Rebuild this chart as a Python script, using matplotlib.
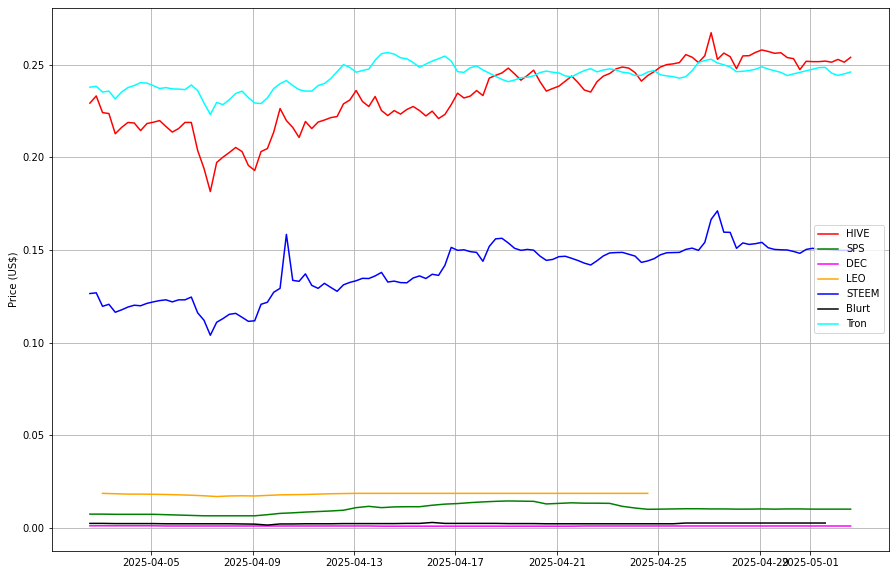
import numpy as np
import pandas as pd
import matplotlib
matplotlib.use('Agg')
import matplotlib.pyplot as plt

# time grids (6-hourly for the volatile coins, 12-hourly for the flat ones)
start = '2025-04-02 14:00'
t6 = pd.date_range(start, periods=121, freq='6h')
t12 = pd.date_range(start, periods=61, freq='12h')

hive = [0.2292, 0.2331, 0.2241, 0.2236, 0.2127, 0.2161, 0.2188, 0.2185, 0.2144, 0.2182,
        0.2189, 0.2198, 0.2166, 0.2136, 0.2155, 0.2188, 0.2188, 0.2037, 0.1940, 0.1815,
        0.1972, 0.2001, 0.2026, 0.2053, 0.2031, 0.1956, 0.1929, 0.2031, 0.2047, 0.2136,
        0.2263, 0.2198, 0.2161, 0.2107, 0.2193, 0.2155, 0.2190, 0.2201, 0.2214, 0.2220,
        0.2288, 0.2309, 0.2360, 0.2301, 0.2274, 0.2328, 0.2252, 0.2225, 0.2252, 0.2233,
        0.2258, 0.2274, 0.2252, 0.2223, 0.2249, 0.2209, 0.2231, 0.2284, 0.2346, 0.2320,
        0.2330, 0.2360, 0.2333, 0.2427, 0.2442, 0.2455, 0.2481, 0.2450, 0.2416, 0.2441,
        0.2470, 0.2408, 0.2357, 0.2371, 0.2384, 0.2411, 0.2438, 0.2403, 0.2363, 0.2352,
        0.2408, 0.2438, 0.2452, 0.2477, 0.2487, 0.2481, 0.2457, 0.2411, 0.2441, 0.2462,
        0.2487, 0.2500, 0.2504, 0.2511, 0.2554, 0.2540, 0.2511, 0.2548, 0.2672, 0.2528,
        0.2562, 0.2543, 0.2478, 0.2547, 0.2548, 0.2566, 0.2579, 0.2571, 0.2561, 0.2564,
        0.2538, 0.2532, 0.2473, 0.2518, 0.2516, 0.2516, 0.2519, 0.2513, 0.2528, 0.2513, 0.2539]

tron = [0.2378, 0.2383, 0.2352, 0.2357, 0.2315, 0.2352, 0.2376, 0.2387, 0.2403, 0.2400,
        0.2387, 0.2371, 0.2376, 0.2369, 0.2368, 0.2365, 0.2390, 0.2360, 0.2293, 0.2231,
        0.2296, 0.2284, 0.2311, 0.2344, 0.2357, 0.2322, 0.2293, 0.2290, 0.2320, 0.2371,
        0.2397, 0.2414, 0.2387, 0.2365, 0.2357, 0.2357, 0.2387, 0.2398, 0.2425, 0.2462,
        0.2500, 0.2485, 0.2459, 0.2468, 0.2476, 0.2524, 0.2559, 0.2565, 0.2557, 0.2537,
        0.2531, 0.2511, 0.2485, 0.2503, 0.2519, 0.2532, 0.2546, 0.2519, 0.2462, 0.2458,
        0.2483, 0.2493, 0.2471, 0.2454, 0.2437, 0.2420, 0.2408, 0.2417, 0.2429, 0.2432,
        0.2439, 0.2457, 0.2465, 0.2459, 0.2455, 0.2439, 0.2434, 0.2452, 0.2468, 0.2478,
        0.2461, 0.2471, 0.2477, 0.2471, 0.2459, 0.2455, 0.2441, 0.2442, 0.2460, 0.2468,
        0.2445, 0.2439, 0.2435, 0.2427, 0.2435, 0.2467, 0.2511, 0.2522, 0.2529, 0.2509,
        0.2499, 0.2487, 0.2462, 0.2464, 0.2468, 0.2475, 0.2488, 0.2476, 0.2467, 0.2458,
        0.2441, 0.2450, 0.2458, 0.2467, 0.2475, 0.2484, 0.2485, 0.2454, 0.2442, 0.2450, 0.2460]

steem = [0.1265, 0.1269, 0.1196, 0.1207, 0.1164, 0.1177, 0.1192, 0.1202, 0.1199, 0.1212,
         0.1220, 0.1227, 0.1231, 0.1220, 0.1231, 0.1231, 0.1246, 0.1161, 0.1121, 0.1040,
         0.1110, 0.1130, 0.1153, 0.1158, 0.1137, 0.1115, 0.1118, 0.1207, 0.1218, 0.1272,
         0.1293, 0.1584, 0.1336, 0.1331, 0.1371, 0.1309, 0.1293, 0.1320, 0.1298, 0.1277,
         0.1312, 0.1325, 0.1334, 0.1347, 0.1346, 0.1360, 0.1379, 0.1327, 0.1332, 0.1324,
         0.1323, 0.1349, 0.1360, 0.1346, 0.1369, 0.1363, 0.1417, 0.1514, 0.1498, 0.1501,
         0.1491, 0.1487, 0.1439, 0.1519, 0.1560, 0.1563, 0.1538, 0.1509, 0.1498, 0.1503,
         0.1499, 0.1467, 0.1444, 0.1449, 0.1464, 0.1466, 0.1455, 0.1443, 0.1429, 0.1419,
         0.1442, 0.1468, 0.1484, 0.1486, 0.1487, 0.1477, 0.1467, 0.1433, 0.1441, 0.1453,
         0.1474, 0.1485, 0.1486, 0.1487, 0.1503, 0.1510, 0.1498, 0.1541, 0.1665, 0.1711,
         0.1596, 0.1595, 0.1509, 0.1538, 0.1530, 0.1534, 0.1541, 0.1512, 0.1503, 0.1501,
         0.1500, 0.1492, 0.1482, 0.1503, 0.1509, 0.1503, 0.1503, 0.1501, 0.1498, 0.1498, 0.1498]

sps = [0.0075, 0.0075, 0.0074, 0.0074, 0.0074, 0.0074, 0.0072, 0.0070, 0.0068, 0.0066,
       0.0066, 0.0066, 0.0066, 0.0066, 0.0072, 0.0079, 0.0082, 0.0086, 0.0089, 0.0092,
       0.0096, 0.0110, 0.0117, 0.0110, 0.0114, 0.0115, 0.0115, 0.0123, 0.0129, 0.0132,
       0.0137, 0.0141, 0.0144, 0.0146, 0.0145, 0.0144, 0.0130, 0.0133, 0.0136, 0.0134,
       0.0134, 0.0133, 0.0117, 0.0108, 0.0101, 0.0102, 0.0103, 0.0104, 0.0104, 0.0103,
       0.0103, 0.0102, 0.0102, 0.0103, 0.0102, 0.0103, 0.0103, 0.0102, 0.0102, 0.0102, 0.0102]

dec = [0.0012, 0.0012, 0.0012, 0.0012, 0.0012, 0.0012, 0.0011, 0.0011, 0.0011, 0.0011,
       0.0011, 0.0011, 0.0011, 0.0011, 0.0011, 0.0011, 0.0011, 0.0011, 0.0011, 0.0011,
       0.0011, 0.0011, 0.0011, 0.0010, 0.0010, 0.0010, 0.0010, 0.0010, 0.0010, 0.0010,
       0.0010, 0.0010, 0.0010, 0.0010, 0.0010, 0.0010, 0.0010, 0.0010, 0.0010, 0.0011,
       0.0011, 0.0011, 0.0011, 0.0011, 0.0011, 0.0011, 0.0011, 0.0011, 0.0011, 0.0011,
       0.0011, 0.0011, 0.0011, 0.0011, 0.0011, 0.0011, 0.0011, 0.0011, 0.0011, 0.0011, 0.0011]

leo = [0.0187, 0.0185, 0.0183, 0.0183, 0.0182, 0.0181, 0.0179, 0.0177, 0.0174, 0.0170,
       0.0173, 0.0174, 0.0173, 0.0176, 0.0179, 0.0180, 0.0181, 0.0183, 0.0185, 0.0186,
       0.0187, 0.0187, 0.0187, 0.0187, 0.0187, 0.0187, 0.0187, 0.0187, 0.0187, 0.0187,
       0.0187, 0.0187, 0.0187, 0.0187, 0.0187, 0.0187, 0.0187, 0.0187, 0.0187, 0.0187,
       0.0187, 0.0187, 0.0187, 0.0187]

blurt = [0.0025, 0.0025, 0.0024, 0.0024, 0.0024, 0.0024, 0.0023, 0.0023, 0.0023, 0.0023,
         0.0023, 0.0023, 0.0022, 0.0021, 0.0016, 0.0022, 0.0022, 0.0023, 0.0023, 0.0023,
         0.0024, 0.0024, 0.0024, 0.0024, 0.0024, 0.0025, 0.0025, 0.0030, 0.0025, 0.0025,
         0.0025, 0.0025, 0.0025, 0.0024, 0.0024, 0.0024, 0.0023, 0.0023, 0.0023, 0.0023,
         0.0023, 0.0023, 0.0023, 0.0023, 0.0023, 0.0023, 0.0023, 0.0027, 0.0027, 0.0027,
         0.0027, 0.0027, 0.0027, 0.0027, 0.0027, 0.0027, 0.0027, 0.0027, 0.0027]

fig, ax = plt.subplots(figsize=(894/72, 575/72), dpi=72)
fig.subplots_adjust(left=0.058, right=0.994, top=0.986, bottom=0.042)

ax.plot(t6, hive, color='red', label='HIVE')
ax.plot(t12, sps, color='green', label='SPS')
ax.plot(t12, dec, color='magenta', label='DEC')
ax.plot(t12[1:1+len(leo)], leo, color='orange', label='LEO')
ax.plot(t6, steem, color='blue', label='STEEM')
ax.plot(t12[:len(blurt)], blurt, color='black', label='Blurt')
ax.plot(t6, tron, color='cyan', label='Tron')

ax.set_ylabel('Price (US$)')
ax.grid(True)
ax.legend(loc='center right')

plt.savefig('out.png', dpi=72)
